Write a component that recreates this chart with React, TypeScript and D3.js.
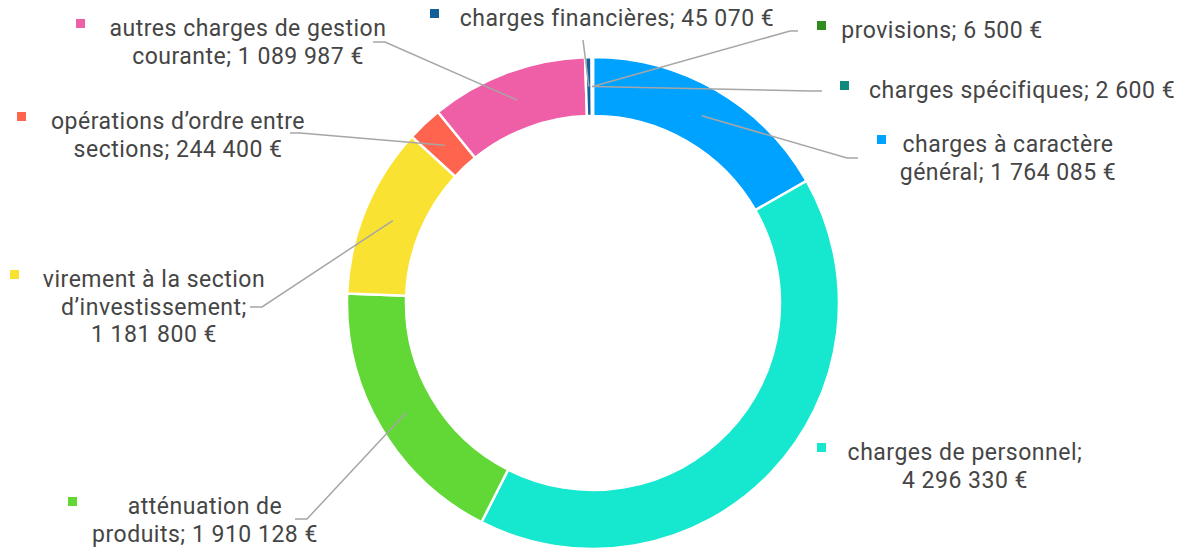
import React from "react";
import * as d3 from "d3";

const categories = [
  "charges à caractère général",
  "charges de personnel",
  "atténuation de produits",
  "virement à la section d’investissement",
  "opérations d’ordre entre sections",
  "autres charges de gestion courante",
  "charges financières",
  "charges spécifiques",
  "provisions",
];
const values = [1764085, 4296330, 1910128, 1181800, 244400, 1089987, 45070, 2600, 6500];
const colors = ["#00A2FF", "#16E7CF", "#61D836", "#FAE232", "#FF644E", "#EF5FA7", "#11609A", "#0F8A7D", "#2F8C1E"];

// layout of labels: text center x, first baseline y, square x, words per line, leader elbow points
const labelLayout = [
  { cx: 1008, y: 152, sq: 877, lines: [3, 2], leader: [[858, 158], [847, 158]] },
  { cx: 965, y: 460, sq: 817, lines: [3, 1], leader: null },
  { cx: 205, y: 514, sq: 68, lines: [2, 2], leader: [[295, 519], [307, 519]] },
  { cx: 154, y: 287, sq: 10, lines: [4, 1, 1], leader: [[250, 307], [262, 307]] },
  { cx: 178, y: 129, sq: 17, lines: [3, 2], leader: [[290, 133], [300, 133]] },
  { cx: 248, y: 36, sq: 76, lines: [4, 2], leader: [[373, 42], [385, 42]] },
  { cx: 617, y: 26, sq: 430, lines: [3], leader: [[583, 40]] },
  { cx: 1022, y: 98, sq: 840, lines: [3], leader: [[822, 91], [810, 91]] },
  { cx: 942, y: 38, sq: 817, lines: [2], leader: [[798, 31], [790, 31]] },
];

const fr = d3.formatLocale({ decimal: ",", thousands: "\u00a0", grouping: [3], currency: ["", "\u00a0€"] });
const fmt = fr.format("$,.0f");

const W = 1181, H = 548;
const cx = 593, cy = 303, rOuter = 246, rInner = 187;

export default function App() {
  const pie = d3.pie<number>().sort(null).value((d) => d)(values);
  const arc = d3.arc<d3.PieArcDatum<number>>().innerRadius(rInner).outerRadius(rOuter);
  const line = d3.line();

  return (
    <div style={{ position: "absolute", left: 0, top: 0 }}>
      <svg width={W} height={H} style={{ display: "block", fontFamily: "Roboto, sans-serif" }}>
        <rect width={W} height={H} fill="#fff" />
        <g transform={`translate(${cx},${cy})`}>
          {pie.map((p, i) => (
            <path key={i} d={arc(p) || ""} fill={colors[i]} stroke="#fff" strokeWidth={2.5} />
          ))}
        </g>
        {pie.map((p, i) => {
          const L = labelLayout[i];
          if (!L.leader) return null;
          const c = arc.centroid(p);
          const pts: [number, number][] = [...(L.leader as [number, number][]), [c[0] + cx, c[1] + cy]];
          return <path key={"l" + i} d={line(pts) || ""} fill="none" stroke="#A6A6A6" strokeWidth={1.5} />;
        })}
        {categories.map((name, i) => {
          const L = labelLayout[i];
          const tokens = (name + "; " + fmt(values[i])).split(" ");
          const rows: string[] = [];
          let k = 0;
          for (const n of L.lines) {
            rows.push(tokens.slice(k, k + n).join(" "));
            k += n;
          }
          return (
            <g key={"t" + i}>
              <rect x={L.sq} y={L.y - 17} width={9} height={9} fill={colors[i]} />
              <text textAnchor="middle" fontSize={23} letterSpacing={0.5} fill="#454545">
                {rows.map((r, j) => (
                  <tspan key={j} x={L.cx} y={L.y + j * 27.5}>
                    {r}
                  </tspan>
                ))}
              </text>
            </g>
          );
        })}
      </svg>
    </div>
  );
}
